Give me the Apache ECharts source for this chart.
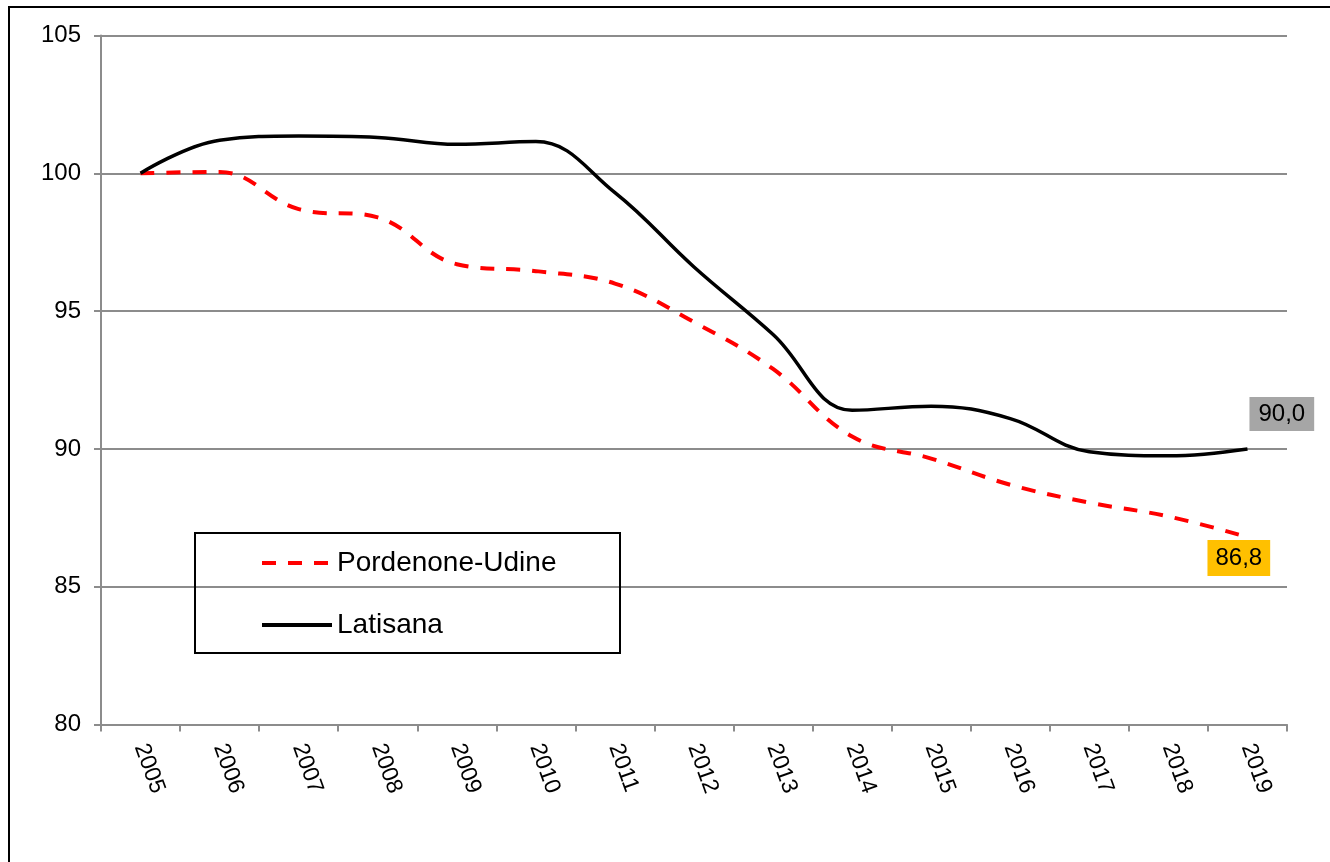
<!DOCTYPE html>
<html>
<head>
<meta charset="utf-8">
<script src="https://cdn.jsdelivr.net/npm/echarts@6/dist/echarts.min.js"></script>
<style>
  html, body { margin: 0; padding: 0; background: #fff; }
  #main { width: 1330px; height: 862px; }
</style>
</head>
<body>
<div id="main"></div>
<script>
  // dati
  var years = ['2005', '2006', '2007', '2008', '2009', '2010', '2011', '2012', '2013', '2014', '2015', '2016', '2017', '2018', '2019']
  var pordenoneUdine = [100, 100.05, 98.7, 98.4, 96.7, 96.45, 96.0, 94.6, 92.9, 90.45, 89.65, 88.7, 88.05, 87.55, 86.8]
  var latisana = [100, 101.2, 101.35, 101.3, 101.05, 101.15, 99.3, 96.6, 94.15, 91.4, 91.55, 91.1, 89.9, 89.75, 90.0]
  var yTicks = [80, 85, 90, 95, 100, 105]

  var fmt = function (p) {
    var v = Array.isArray(p.value) ? p.value[1] : p.value
    return Number(v).toFixed(1).replace('.', ',')
  }

  var myChart = echarts.init(document.getElementById('main'))
  myChart.setOption({
    animation: false,
    backgroundColor: '#ffffff',
    textStyle: { fontFamily: 'Liberation Sans, Arial, sans-serif', color: '#000' },
    grid: { left: 101, top: 35.5, right: 43, bottom: 137.5 },
    graphic: [
      {
        type: 'rect',
        shape: { x: 9, y: 7, width: 1400, height: 1000 },
        style: { fill: 'none', stroke: '#000', lineWidth: 2 },
        silent: true
      },
      {
        type: 'rect',
        shape: { x: 195, y: 533, width: 425, height: 120 },
        style: { fill: 'none', stroke: '#000', lineWidth: 2 },
        z: 10,
        silent: true
      }
    ],
    legend: {
      orient: 'vertical',
      left: 260,
      top: 547,
      padding: 0,
      itemWidth: 70,
      itemHeight: 14,
      itemGap: 30,
      itemStyle: { opacity: 0 },
      lineStyle: { width: 4 },
      textStyle: { fontSize: 28, lineHeight: 32, color: '#000', fontFamily: 'Liberation Sans, Arial, sans-serif' },
      data: ['Pordenone-Udine', 'Latisana']
    },
    xAxis: {
      type: 'category',
      data: years,
      boundaryGap: true,
      axisLine: { lineStyle: { color: '#8c8c8c', width: 2 } },
      axisTick: { show: true, length: 7, lineStyle: { color: '#8c8c8c', width: 2 } },
      axisLabel: { rotate: -70, fontSize: 23, color: '#000', margin: 20, interval: 0 },
      splitLine: { show: false }
    },
    yAxis: {
      type: 'value',
      min: yTicks[0],
      max: yTicks[yTicks.length - 1],
      interval: 5,
      axisLine: { show: true, lineStyle: { color: '#8c8c8c', width: 2 } },
      axisTick: { show: true, length: 7, lineStyle: { color: '#8c8c8c', width: 2 } },
      axisLabel: { fontSize: 24, color: '#000', margin: 20 },
      splitLine: { show: true, lineStyle: { color: '#8c8c8c', width: 2 } }
    },
    series: [
      {
        name: 'Pordenone-Udine',
        type: 'line',
        data: pordenoneUdine,
        smooth: 0.4,
        symbol: 'none',
        lineStyle: { color: '#ff0000', width: 4, type: [14, 12] },
        itemStyle: { color: '#ff0000' },
        endLabel: {
          show: true,
          formatter: fmt,
          fontSize: 24,
          color: '#000',
          backgroundColor: '#ffc000',
          padding: [6, 8, 6, 8],
          offset: [-48, 21]
        }
      },
      {
        name: 'Latisana',
        type: 'line',
        data: latisana,
        smooth: 0.4,
        symbol: 'none',
        lineStyle: { color: '#000000', width: 3.5 },
        itemStyle: { color: '#000000' },
        endLabel: {
          show: true,
          formatter: fmt,
          fontSize: 24,
          color: '#000',
          backgroundColor: '#a6a6a6',
          padding: [5, 9, 5, 9],
          offset: [-6, -35]
        }
      }
    ]
  })
</script>
</body>
</html>
